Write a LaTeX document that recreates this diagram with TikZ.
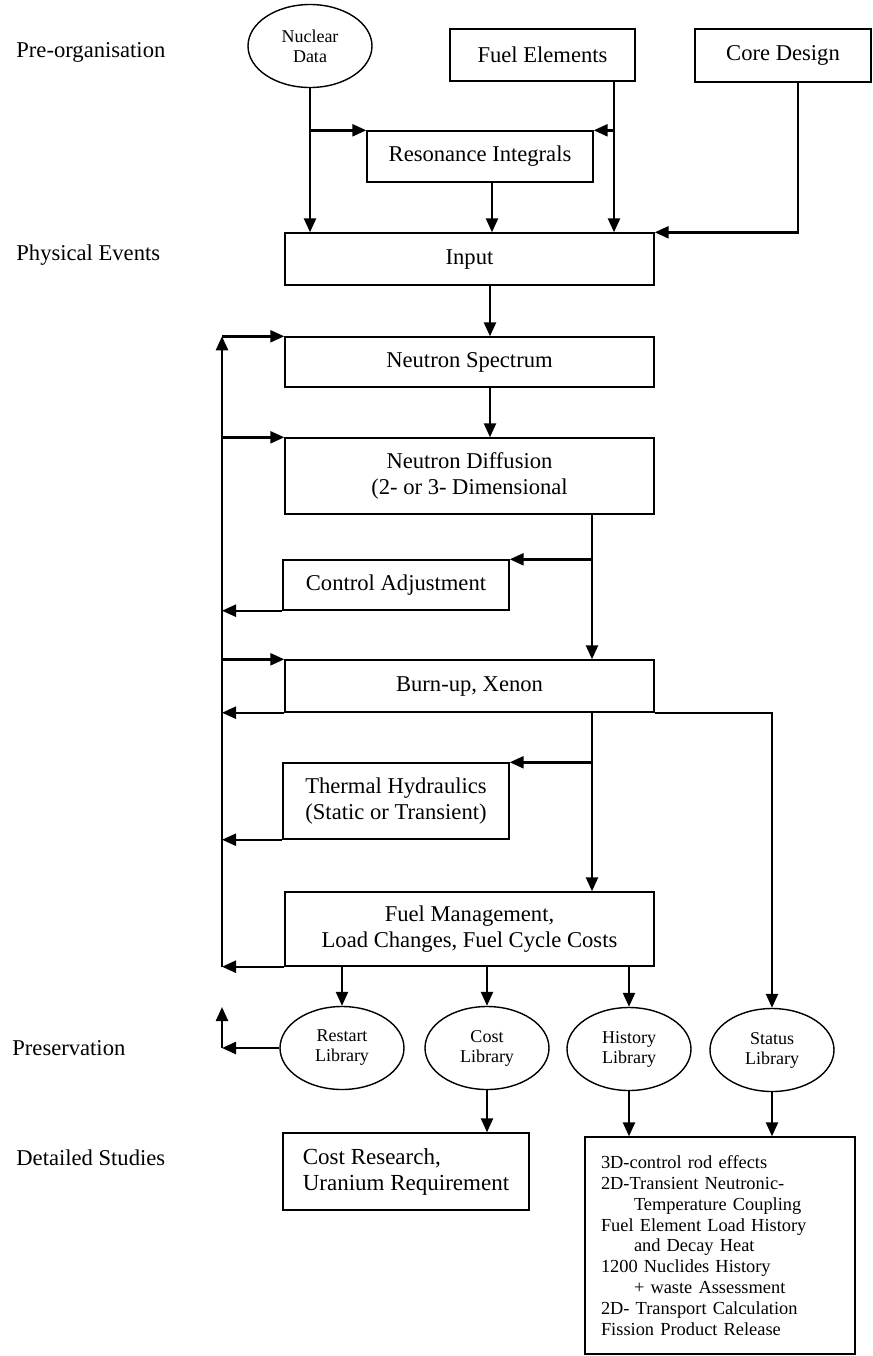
\documentclass[tikz,border=0pt]{standalone}
\usepackage{fontspec}
\setmainfont{Liberation Serif}
\usepackage{tikz}
\usetikzlibrary{arrows.meta,positioning,shapes.geometric}
\tikzset{
  flow/.style={-{Triangle[length=7pt,width=6pt]}, line width=1.2pt},
  blk/.style={rectangle, draw, line width=0.7pt, inner sep=0pt, align=center, font=\fontsize{11.3}{13}\selectfont},
  lib/.style={ellipse, draw, line width=0.7pt, inner sep=0pt, minimum width=62pt, minimum height=41.5pt, align=center, font=\fontsize{9}{10}\selectfont},
  stage/.style={anchor=west, inner sep=0pt, font=\fontsize{11.3}{13}\selectfont},
}

\begin{document}
\begin{tikzpicture}[x=0.5pt, y=-0.5pt]
\useasboundingbox (0,0) rectangle (873,1356);
% stage labels
\node[stage] (pre)  at (16,52)    {Pre-organisation};
\node[stage] (phys) at (16,255)   {Physical Events};
\node[stage] (pres) at (12,1048)  {Preservation};
\node[stage] (det)  at (16,1158)  {Detailed Studies};
% inputs
\node[lib] (nuc) at (310,46) {Nuclear\\Data};
\node[blk, minimum width=92.5pt, minimum height=26pt] (fuel) at (542.5,55) {Fuel Elements};
\node[blk, minimum width=88pt, minimum height=26.5pt] (core) at (783,55.5) {Core Design};
\node[blk, minimum width=113pt, minimum height=25.5pt] (reso) at (480,156.5) {Resonance Integrals};
\node[blk, minimum width=184.5pt, minimum height=26pt] (input) at (469.5,259) {Input};
% main calculation chain
\node[blk, minimum width=184.5pt, minimum height=25pt] (spec) at (469.5,362) {Neutron Spectrum};
\node[blk, minimum width=184.5pt, minimum height=38pt] (diff) at (469.5,476) {Neutron Diffusion\\(2- or 3- Dimensional};
\node[blk, minimum width=113pt, minimum height=25pt] (ctrl) at (396,585) {Control Adjustment};
\node[blk, minimum width=184.5pt, minimum height=26pt] (burn) at (469.5,686) {Burn-up, Xenon};
\node[blk, minimum width=113pt, minimum height=38pt] (therm) at (396,801) {Thermal Hydraulics\\(Static or Transient)};
\node[blk, minimum width=184.5pt, minimum height=37pt] (fuelm) at (469.5,929) {Fuel Management,\\Load Changes, Fuel Cycle Costs};
% libraries
\node[lib] (restart) at (342,1048) {Restart\\Library};
\node[lib] (cost)    at (487,1048) {Cost\\Library};
\node[lib] (hist)    at (629,1049) {History\\Library};
\node[lib] (status)  at (772,1050) {Status\\Library};
% studies
\node[blk, align=left, minimum width=123pt, minimum height=38.5pt, font=\fontsize{11.5}{13}\selectfont] (costres) at (406,1171.5) {Cost Research,\\Uranium Requirement};
\node[blk, align=left, text width=119pt, inner xsep=8pt, minimum height=108.5pt, font=\fontsize{9.2}{10.4}\selectfont] (detail) at (720,1245.5) {3D-control rod effects\\
2D-Transient Neutronic-\\
\hspace*{16.5pt}Temperature Coupling\\
Fuel Element Load History\\
\hspace*{16.5pt}and Decay Heat\\
1200 Nuclides History\\
\hspace*{16.5pt}+ waste Assessment\\
2D- Transport Calculation\\
Fission Product Release\\[8pt]};

\coordinate (lp) at (222,0);
\coordinate (mid) at (490,0);
\coordinate (rs) at (492,0);
\coordinate (rt) at (592,0);
\coordinate (fl) at (614,0);
\coordinate (cl) at (798,0);
\coordinate (rup) at (222,1007);

\draw[flow] (nuc.south) -- (nuc.south |- input.north);
\draw[flow] (nuc.south |- reso.north) -- (reso.north west);
\draw[flow] (fuel.south -| fl) -- (input.north -| fl);
\draw[flow] (reso.north -| fl) -- (reso.north east);
\draw[flow] (reso.south -| rs) -- (input.north -| rs);
\draw[flow] (core.south -| cl) |- (input.north east);
\draw[flow] (input.south -| mid) -- (spec.north -| mid);
\draw[flow] (spec.south -| mid) -- (diff.north -| mid);

% feedback loop
\draw[flow] (lp |- fuelm.south west) -- (lp |- spec.north west);
\draw[flow] (lp |- spec.north west) -- (spec.north west);
\draw[flow] (lp |- diff.north west) -- (diff.north west);
\draw[flow] (lp |- burn.north west) -- (burn.north west);
\draw[flow] (ctrl.south west) -- (lp |- ctrl.south west);
\draw[flow] (burn.south west) -- (lp |- burn.south west);
\draw[flow] (therm.south west) -- (lp |- therm.south west);
\draw[flow] (fuelm.south west) -- (lp |- fuelm.south west);

\draw[flow] (diff.south -| rt) -- (burn.north -| rt);
\draw[flow] (rt |- ctrl.north east) -- (ctrl.north east);
\draw[flow] (burn.south -| rt) -- (fuelm.north -| rt);
\draw[flow] (rt |- therm.north east) -- (therm.north east);
\draw[flow] (burn.south east) -| (status.north);

\draw[flow] (fuelm.south -| restart.north) -- (restart.north);
\draw[flow] (fuelm.south -| cost.north) -- (cost.north);
\draw[flow] (fuelm.south -| hist.north) -- (hist.north);
\draw[flow] (restart.west) -- (rup |- restart.west);
\draw[flow] (rup |- restart.west) -- (rup);
\draw[flow] (cost.south) -- (cost.south |- costres.north);
\draw[flow] (hist.south) -- (hist.south |- detail.north);
\draw[flow] (status.south) -- (status.south |- detail.north);
\end{tikzpicture}
\end{document}
